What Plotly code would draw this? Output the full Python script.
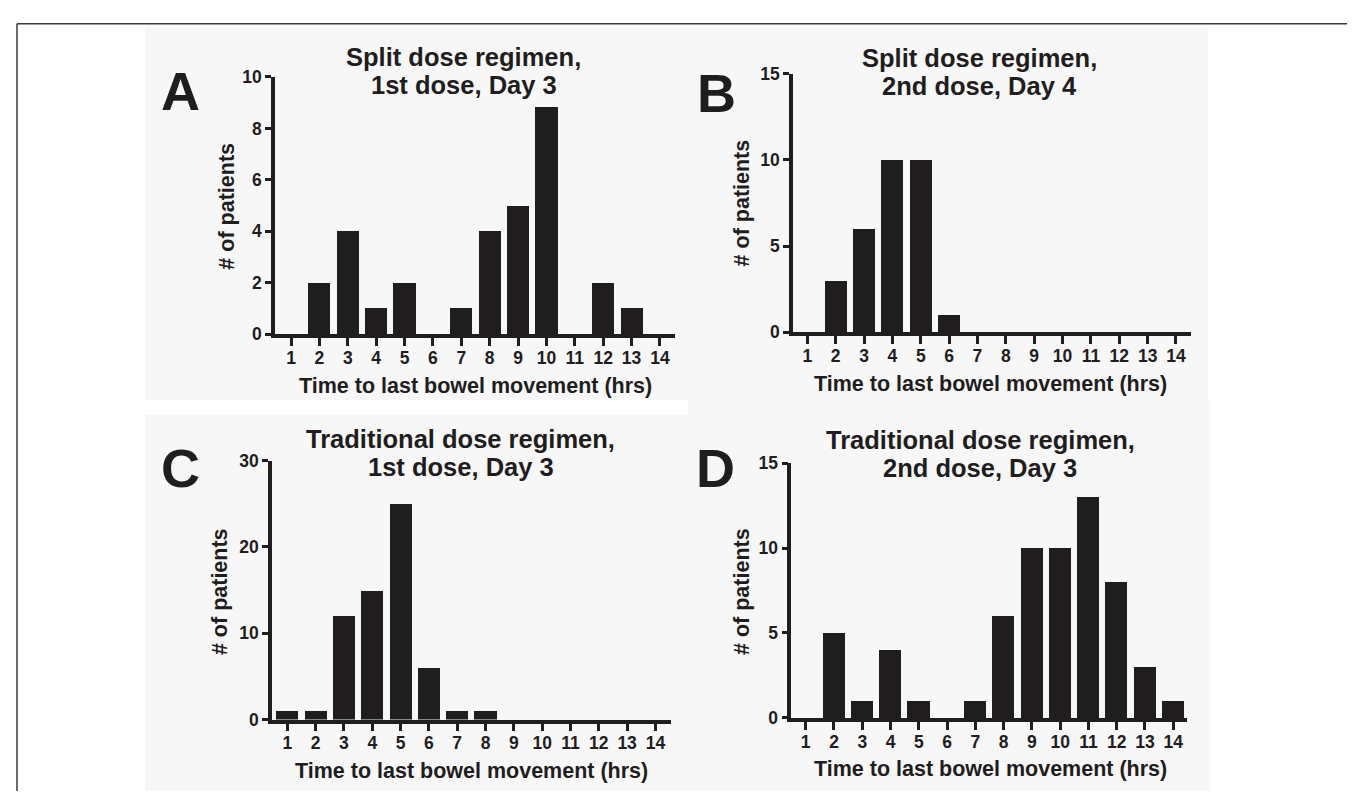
import plotly.graph_objects as go

W, H = 1355, 793

# ---------------- data ----------------
hours = list(range(1, 15))
hour_labels = [str(h) for h in hours]

a_counts = [0, 2, 4, 1, 2, 0, 1, 4, 5, 8.85, 0, 2, 1, 0]
b_counts = [0, 3, 6, 10, 10, 1, 0, 0, 0, 0, 0, 0, 0, 0]
c_counts = [1, 1, 12, 15, 25, 6, 1, 1, 0, 0, 0, 0, 0, 0]
d_counts = [0, 5, 1, 4, 1, 0, 1, 6, 10, 10, 13, 8, 3, 1]

a_yticks = [0, 2, 4, 6, 8, 10]
b_yticks = [0, 5, 10, 15]
c_yticks = [0, 10, 20, 30]
d_yticks = [0, 5, 10, 15]

panel_letters = ["A", "B", "C", "D"]
title_line1 = ["Split dose regimen,", "Split dose regimen,",
               "Traditional dose regimen,", "Traditional dose regimen,"]
title_line2 = ["1st dose, Day 3", "2nd dose, Day 4",
               "1st dose, Day 3", "2nd dose, Day 3"]
x_title = "Time to last bowel movement (hrs)"
y_title = "# of patients"

# ---------------- layout geometry (pixels) ----------------
panels = [
    dict(counts=a_counts, yticks=a_yticks, x0=267, x1=666.7, xr=[0.435, 14.52],
         yb=324.3, yt=60.5, tx=455.7, t1=40, t2=69, lx=172.8, ly=75,
         ytx=219.5, yty=193, xtx=467.1, xty=378),
    dict(counts=b_counts, yticks=b_yticks, x0=785, x1=1183.3, xr=[0.495, 14.54],
         yb=322.3, yt=57.3, tx=971.8, t1=40.7, t2=70, lx=708.5, ly=76.7,
         ytx=734.2, yty=190, xtx=982.5, xty=375),
    dict(counts=c_counts, yticks=c_yticks, x0=264, x1=663, xr=[0.46, 14.55],
         yb=719.7, yt=454, tx=452.6, t1=431.7, t2=460.7, lx=172.6, ly=461.7,
         ytx=212.6, yty=588.3, xtx=463.7, xty=772.3),
    dict(counts=d_counts, yticks=d_yticks, x0=783.3, x1=1179.4, xr=[0.49, 14.5],
         yb=718, yt=456.7, tx=972.3, t1=432.7, t2=461.7, lx=707.9, ly=461.7,
         ytx=733.8, yty=588, xtx=982.1, xty=770.3),
]


def px(x):
    return x / W


def py(y):
    return 1 - y / H


INK = "#1f1d1e"
FONT = "Liberation Sans"

fig = go.Figure()
layout = dict(
    width=W, height=H, margin=dict(l=0, r=0, t=0, b=0),
    paper_bgcolor="white", plot_bgcolor="rgba(0,0,0,0)",
    showlegend=False, bargap=0,
    annotations=[], shapes=[],
)

# background panels and frame
for (x0, y0, x1, y1) in [(137, 10, 680, 392), (680, 10, 1200, 392),
                         (137, 407, 680, 793), (680, 392, 1202, 793)]:
    layout["shapes"].append(dict(type="rect", xref="paper", yref="paper",
                                 x0=px(x0), x1=px(x1), y0=py(y1), y1=py(y0),
                                 fillcolor="#f7f7f7", line=dict(width=0), layer="below"))
for (x0, y0, x1, y1) in [(9, 6, 1348, 6), (9, 6, 9, 793), (1348, 6, 1348, 793)]:
    layout["shapes"].append(dict(type="line", xref="paper", yref="paper",
                                 x0=px(x0), x1=px(x1), y0=py(y0), y1=py(y1),
                                 line=dict(color="#3a3a3a", width=1.5)))

for i, p in enumerate(panels):
    n = "" if i == 0 else str(i + 1)
    fig.add_trace(go.Bar(x=hours, y=p["counts"], width=0.78,
                         marker=dict(color=INK, line=dict(width=0)),
                         xaxis="x" + n, yaxis="y" + n, hoverinfo="x+y"))
    ymax = p["yticks"][-1]
    layout["xaxis" + n] = dict(
        domain=[px(p["x0"]), px(p["x1"])], range=p["xr"], anchor="y" + n,
        tickmode="array", tickvals=hours, ticktext=hour_labels,
        ticks="outside", ticklen=8, tickwidth=3, tickcolor=INK,
        ticklabelstandoff=-3,
        showline=True, linewidth=3.5, linecolor=INK,
        showgrid=False, zeroline=False, fixedrange=True,
        tickfont=dict(family=FONT, size=17.5, color=INK, weight="bold"),
    )
    layout["yaxis" + n] = dict(
        domain=[py(p["yb"]), py(p["yt"])], range=[0, ymax], anchor="x" + n,
        tickmode="array", tickvals=p["yticks"],
        ticktext=[str(v) for v in p["yticks"]],
        ticks="outside", ticklen=6, tickwidth=3, tickcolor=INK,
        showline=True, linewidth=3.5, linecolor=INK,
        showgrid=False, zeroline=False, fixedrange=True,
        tickfont=dict(family=FONT, size=17.5, color=INK, weight="bold"),
    )
    ann = layout["annotations"]
    for txt, yy in [(title_line1[i], p["t1"]), (title_line2[i], p["t2"])]:
        ann.append(dict(text=txt, xref="paper", yref="paper", x=px(p["tx"]), y=py(yy),
                        xanchor="center", yanchor="middle", showarrow=False,
                        font=dict(family=FONT, size=25.5, color=INK, weight="bold")))
    ann.append(dict(text=panel_letters[i], xref="paper", yref="paper",
                    x=px(p["lx"]), y=py(p["ly"]), xanchor="center", yanchor="middle",
                    showarrow=False,
                    font=dict(family=FONT, size=54, color=INK, weight="bold")))
    ann.append(dict(text=y_title, xref="paper", yref="paper", textangle=-90,
                    x=px(p["ytx"]), y=py(p["yty"]), xanchor="center", yanchor="middle",
                    showarrow=False,
                    font=dict(family=FONT, size=21.5, color=INK, weight="bold")))
    ann.append(dict(text=x_title, xref="paper", yref="paper",
                    x=px(p["xtx"]), y=py(p["xty"]), xanchor="center", yanchor="middle",
                    showarrow=False,
                    font=dict(family=FONT, size=21.5, color=INK, weight="bold")))

fig.update_layout(**layout)
fig.write_html("out.html")
